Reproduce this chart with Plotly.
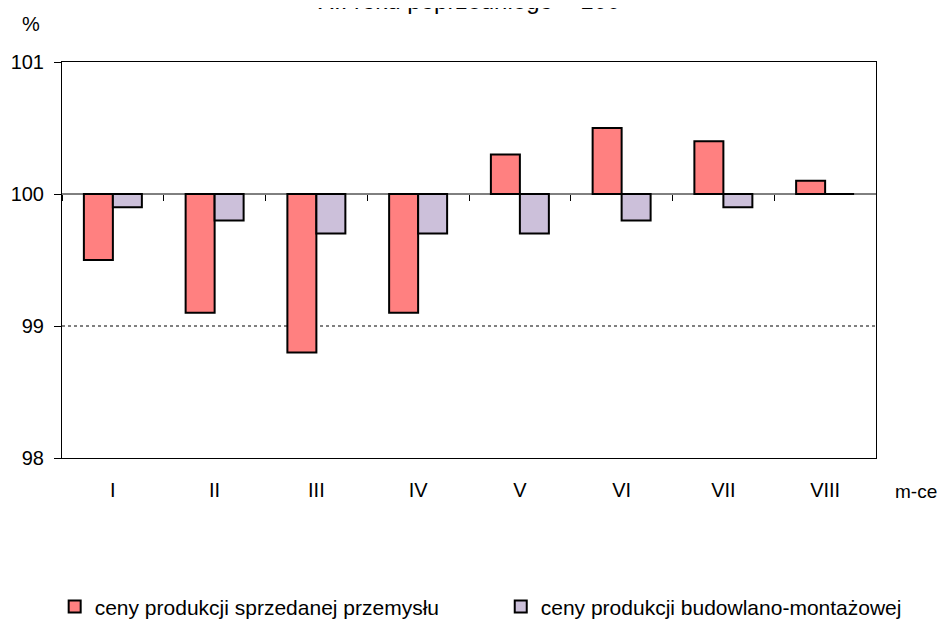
import plotly.graph_objects as go

months = ["I", "II", "III", "IV", "V", "VI", "VII", "VIII"]
przemysl = [99.5, 99.1, 98.8, 99.1, 100.3, 100.5, 100.4, 100.1]
budowlano = [99.9, 99.8, 99.7, 99.7, 99.7, 99.8, 99.9, 100.0]
names = ["ceny produkcji sprzedanej przemysłu", "ceny produkcji budowlano-montażowej"]
base = 100
y_range = [98, 101]

fig = go.Figure()
fig.add_trace(go.Bar(x=months, y=[v - base for v in przemysl], base=base, name=names[0],
                     legend="legend",
                     marker=dict(color="#FF8080", line=dict(color="black", width=2))))
fig.add_trace(go.Bar(x=months, y=[v - base for v in budowlano], base=base, name=names[1],
                     legend="legend2",
                     marker=dict(color="#CCC0DA", line=dict(color="black", width=2))))
# invisible helper trace so the boundary-tick axis (on the 100 line) is drawn
fig.add_trace(go.Scatter(x=list(range(len(months))), y=przemysl, xaxis="x2", mode="markers",
                         marker=dict(opacity=0), showlegend=False, hoverinfo="skip"))

FAM = "Liberation Sans, Arial"
font = dict(family=FAM, size=20, color="black")
lfont = dict(family=FAM, size=21, color="black")
fig.update_layout(
    width=945, height=621, margin=dict(l=54, r=77, t=54, b=171, autoexpand=False),
    plot_bgcolor="white", paper_bgcolor="white",
    barmode="group", bargap=0.43, bargroupgap=0,
    font=font,
    showlegend=True,
    legend=dict(orientation="h", x=-0.009, xanchor="left", y=-0.376, yanchor="middle",
                font=lfont, itemwidth=30, bgcolor="rgba(0,0,0,0)"),
    legend2=dict(orientation="h", x=0.539, xanchor="left", y=-0.376, yanchor="middle",
                 font=lfont, itemwidth=30, bgcolor="rgba(0,0,0,0)"),
    xaxis=dict(showline=True, linecolor="black", linewidth=1, mirror=True, ticks="",
               ticklabelstandoff=14, tickfont=font, automargin=False),
    xaxis2=dict(overlaying="x", anchor="free",
                position=(base - y_range[0]) / (y_range[1] - y_range[0]),
                range=[-0.5, len(months) - 0.5], tick0=0.5, dtick=1, ticks="outside",
                ticklen=6, tickcolor="black", tickwidth=1, showticklabels=False,
                showline=False, showgrid=False, zeroline=False, automargin=False),
    yaxis=dict(range=y_range, dtick=1, showline=True, linecolor="black", linewidth=1,
               mirror=True, ticks="outside", ticklen=7, tickcolor="black",
               ticklabelstandoff=6,
               showgrid=False, zeroline=False, tickfont=font, automargin=False),
)
fig.add_hline(y=99, line=dict(color="black", width=1, dash="dot"), layer="below")
fig.add_hline(y=base, line=dict(color="black", width=1), layer="below")
fig.add_annotation(text="XII roku poprzedniego = 100", xref="paper", yref="paper",
                   x=0.5, y=1.0, yshift=62, yanchor="middle", showarrow=False,
                   font=dict(family=FAM, size=24))
fig.add_annotation(text="%", xref="paper", yref="paper", x=0, xshift=-31, y=1, yshift=38,
                   xanchor="center", yanchor="middle", showarrow=False, font=font)
fig.add_annotation(text="m-ce", xref="paper", yref="paper", x=1, xshift=17, y=0, yshift=-33,
                   xanchor="left", yanchor="middle", showarrow=False,
                   font=dict(family=FAM, size=19, color="black"))
fig.write_html("out.html")
